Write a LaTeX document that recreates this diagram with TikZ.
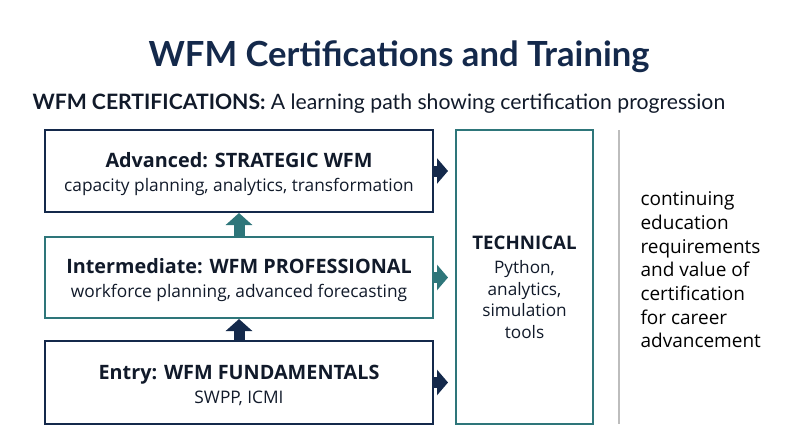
\documentclass[tikz,border=0pt]{standalone}
\usepackage{fontspec}
\setmainfont{Open Sans}
\newfontfamily\latofont{Lato}
\usetikzlibrary{arrows.meta}
\definecolor{navy}{HTML}{14294B}
\definecolor{teal}{HTML}{2E767A}
\definecolor{ink}{HTML}{111A2A}
\definecolor{grayline}{HTML}{BDBDBD}
\tikzset{
  lvl/.style={draw=#1, line width=2pt, fill=white, minimum width=388pt, align=center, inner sep=0pt, text=ink, font=\fontsize{17.3}{21}\selectfont},
  blockup/.style={draw=#1, line width=11pt, -{Triangle[length=12pt,width=26pt]}},
  blockright/.style={draw=#1, line width=11pt, -{Triangle[length=11pt,width=25pt]}},
}
\newcommand{\lvlhead}[1]{{\fontsize{19.8}{23}\selectfont\bfseries #1}}
\begin{document}
\begin{tikzpicture}[x=1pt,y=-1pt]
\useasboundingbox[fill=white] (0,0) rectangle (800,447);
\node[font=\latofont\bfseries\fontsize{34.6}{40}\selectfont, text=navy] (title) at (399,57) {WFM Certifications and Training};
\node[font=\latofont\fontsize{21.2}{25}\selectfont, text=ink, anchor=west] (sub) at (29,104) {\textbf{WFM CERTIFICATIONS:} A learning path showing certification progression};
\node[lvl=navy, minimum height=82pt] (adv) at (239,171) {};
\node[lvl=teal, minimum height=81pt] (int) at (239,277.5) {};
\node[lvl=navy, minimum height=83pt] (ent) at (239,382.5) {};
\node[align=center, text=ink, font=\fontsize{17.3}{21}\selectfont] (advtxt) at (239,174) {\lvlhead{Advanced: STRATEGIC WFM}\\[3pt]capacity planning, analytics, transformation};
\node[align=center, text=ink, font=\fontsize{17.3}{21}\selectfont] (inttxt) at (239,280) {\lvlhead{Intermediate: WFM PROFESSIONAL}\\[3pt]workforce planning, advanced forecasting};
\node[align=center, text=ink, font=\fontsize{17.3}{21}\selectfont] (enttxt) at (239,385) {\lvlhead{Entry: WFM FUNDAMENTALS}\\[3pt]SWPP, ICMI};
\node[draw=teal, line width=2pt, minimum width=137pt, minimum height=294pt, inner sep=0pt] (tech) at (524.5,277) {};
\node[align=center, text=ink, font=\fontsize{17.2}{21.5}\selectfont] (techtxt) at (524.5,287) {{\fontsize{18.7}{22}\selectfont\bfseries TECHNICAL}\\[3pt]Python,\\analytics,\\simulation\\tools};
\draw[blockup=navy] (ent.north) -- (int.south);
\draw[blockup=teal] (int.north) -- (adv.south);
\coordinate (tipA) at ([xshift=-7pt]adv.east -| tech.west);
\coordinate (tipB) at ([xshift=-7pt]int.east -| tech.west);
\coordinate (tipC) at ([xshift=-7pt]ent.east -| tech.west);
\draw[blockright=navy] (adv.east) -- (tipA);
\draw[blockright=teal] (int.east) -- (tipB);
\draw[blockright=navy] (ent.east) -- (tipC);
\coordinate (lt) at (619,130);
\coordinate (lb) at (619,424);
\draw[grayline, line width=1.5pt] (lt) -- (lb);
\node[anchor=west, align=left, text=black, font=\fontsize{19}{23.7}\selectfont] (note) at (637,270) {continuing\\education\\requirements\\and value of\\certification\\for career\\advancement};
\end{tikzpicture}
\end{document}
